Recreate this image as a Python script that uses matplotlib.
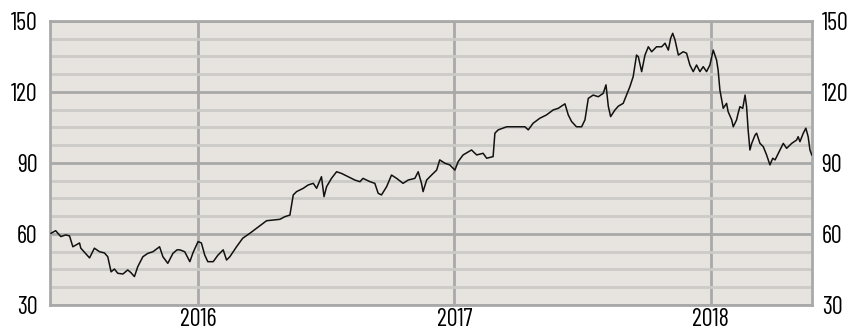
import matplotlib
matplotlib.use("Agg")
import matplotlib.pyplot as plt
from matplotlib.ticker import MultipleLocator, FixedLocator

plt.rcParams['font.family'] = ['Barlow Condensed', 'Roboto Condensed', 'DejaVu Sans']

# price series, time in decimal years
years = [
    2015.428, 2015.446, 2015.466, 2015.485, 2015.500, 2015.513, 2015.539, 2015.544,
    2015.578, 2015.597, 2015.617, 2015.636, 2015.649, 2015.662, 2015.675, 2015.688,
    2015.708, 2015.727, 2015.739, 2015.753, 2015.766, 2015.786, 2015.805, 2015.825,
    2015.851, 2015.864, 2015.883, 2015.903, 2015.919, 2015.930, 2015.949, 2015.969,
    2015.981, 2016.001, 2016.014, 2016.027, 2016.039, 2016.060, 2016.078, 2016.099,
    2016.112, 2016.125, 2016.151, 2016.175, 2016.203, 2016.229, 2016.255, 2016.268,
    2016.320, 2016.339, 2016.359, 2016.372, 2016.385, 2016.411, 2016.430, 2016.450,
    2016.463, 2016.482, 2016.492, 2016.502, 2016.521, 2016.541, 2016.560, 2016.586,
    2016.612, 2016.632, 2016.644, 2016.671, 2016.690, 2016.703, 2016.716, 2016.736,
    2016.755, 2016.775, 2016.800, 2016.820, 2016.846, 2016.859, 2016.872, 2016.878,
    2016.892, 2016.911, 2016.931, 2016.943, 2016.963, 2016.982, 2017.002, 2017.015,
    2017.034, 2017.067, 2017.087, 2017.112, 2017.126, 2017.151, 2017.158, 2017.171,
    2017.204, 2017.243, 2017.275, 2017.288, 2017.307, 2017.333, 2017.359, 2017.385,
    2017.405, 2017.431, 2017.444, 2017.457, 2017.476, 2017.496, 2017.509, 2017.522,
    2017.541, 2017.561, 2017.580, 2017.591, 2017.600, 2017.609, 2017.626, 2017.639,
    2017.658, 2017.671, 2017.684, 2017.697, 2017.710, 2017.717, 2017.730, 2017.743,
    2017.756, 2017.769, 2017.788, 2017.808, 2017.821, 2017.834, 2017.843, 2017.851,
    2017.860, 2017.873, 2017.892, 2017.905, 2017.918, 2017.931, 2017.944, 2017.957,
    2017.970, 2017.983, 2017.996, 2018.009, 2018.022, 2018.028, 2018.035, 2018.042,
    2018.048, 2018.061, 2018.067, 2018.081, 2018.087, 2018.100, 2018.106, 2018.113,
    2018.124, 2018.133, 2018.139, 2018.145, 2018.152, 2018.159, 2018.172, 2018.178,
    2018.191, 2018.204, 2018.217, 2018.230, 2018.241, 2018.250, 2018.269, 2018.282,
    2018.295, 2018.315, 2018.334, 2018.340, 2018.347, 2018.360, 2018.370, 2018.379,
    2018.386, 2018.393,
]
prices = [
    60.3, 61.4, 58.9, 59.6, 59.2, 54.6, 56.2, 54.0,
    49.9, 54.0, 52.5, 52.0, 50.4, 44.0, 45.2, 43.4,
    43.1, 44.8, 43.7, 42.0, 46.2, 50.4, 51.8, 52.5,
    54.6, 50.4, 47.6, 51.8, 53.3, 53.3, 52.5, 48.3,
    52.0, 56.8, 56.2, 51.1, 48.3, 48.3, 51.0, 53.3,
    49.0, 50.4, 54.6, 58.2, 60.3, 62.4, 64.5, 65.6,
    66.2, 67.3, 68.0, 76.5, 77.9, 79.3, 80.7, 81.4,
    79.3, 84.2, 75.8, 80.0, 83.5, 86.3, 85.6, 84.2,
    82.8, 82.1, 83.5, 82.1, 81.4, 77.2, 76.5, 80.0,
    84.9, 83.5, 81.4, 82.8, 83.5, 86.3, 81.4, 77.9,
    82.8, 84.9, 87.0, 91.3, 89.9, 89.2, 87.0, 90.6,
    93.4, 95.5, 93.4, 94.1, 92.0, 92.7, 102.6, 104.0,
    105.3, 105.3, 105.3, 104.0, 106.8, 108.9, 110.3, 112.4,
    113.1, 115.0, 110.3, 107.5, 105.3, 105.3, 108.2, 117.3,
    118.7, 118.0, 119.4, 123.0, 114.0, 109.6, 112.4, 114.0,
    115.2, 118.7, 122.2, 126.5, 135.6, 134.9, 128.6, 135.6,
    139.1, 137.0, 139.1, 139.1, 140.6, 137.7, 142.7, 144.8,
    142.0, 135.6, 137.0, 136.4, 131.4, 128.6, 131.4, 128.6,
    130.7, 128.6, 131.4, 137.7, 133.5, 129.3, 120.8, 116.6,
    113.1, 115.2, 111.7, 108.2, 105.3, 108.2, 111.0, 113.8,
    113.1, 118.7, 113.8, 104.0, 95.5, 98.3, 101.8, 102.6,
    98.3, 96.9, 93.4, 89.2, 92.0, 91.3, 95.5, 98.3,
    96.2, 98.3, 99.7, 101.1, 99.0, 102.6, 104.7, 101.1,
    95.5, 93.4,
]

year_ticks = [2016, 2017, 2018]
year_labels = ['2016', '2017', '2018']
value_ticks = [30, 60, 90, 120, 150]

face = '#e7e4df'
major_col = '#a9a9a9'
minor_col = '#cdcbc8'
label_size = 17.5

fig = plt.figure(figsize=(8.58, 3.30), dpi=100)
ax = fig.add_axes([0.0583, 0.0758, 0.8881, 0.8606])
ax.set_facecolor(face)

ax.plot(years, prices, color='#111111', lw=1.1, zorder=3)

ax.set_xlim(2015.424, 2018.394)
ax.set_ylim(30, 150)

ax.yaxis.set_major_locator(FixedLocator(value_ticks))
ax.yaxis.set_minor_locator(MultipleLocator(7.5))
ax.xaxis.set_major_locator(FixedLocator(year_ticks))
ax.set_xticklabels(year_labels)

ax.grid(which='major', axis='both', color=major_col, lw=2.0, zorder=1)
ax.grid(which='minor', axis='y', color=minor_col, lw=2.0, zorder=0.5)
ax.set_axisbelow(True)

for s in ax.spines.values():
    s.set_color(major_col)
    s.set_linewidth(2.0)

ax.tick_params(which='both', length=0)
ax.tick_params(axis='y', labelsize=label_size, pad=9)
ax.tick_params(axis='x', labelsize=label_size, pad=2)

# same scale repeated on the right side
ax2 = ax.twinx()
ax2.set_ylim(30, 150)
ax2.yaxis.set_major_locator(FixedLocator(value_ticks))
ax2.tick_params(which='both', length=0, labelsize=label_size, pad=7)
for s in ax2.spines.values():
    s.set_visible(False)

fig.savefig('out.png', dpi=100)
